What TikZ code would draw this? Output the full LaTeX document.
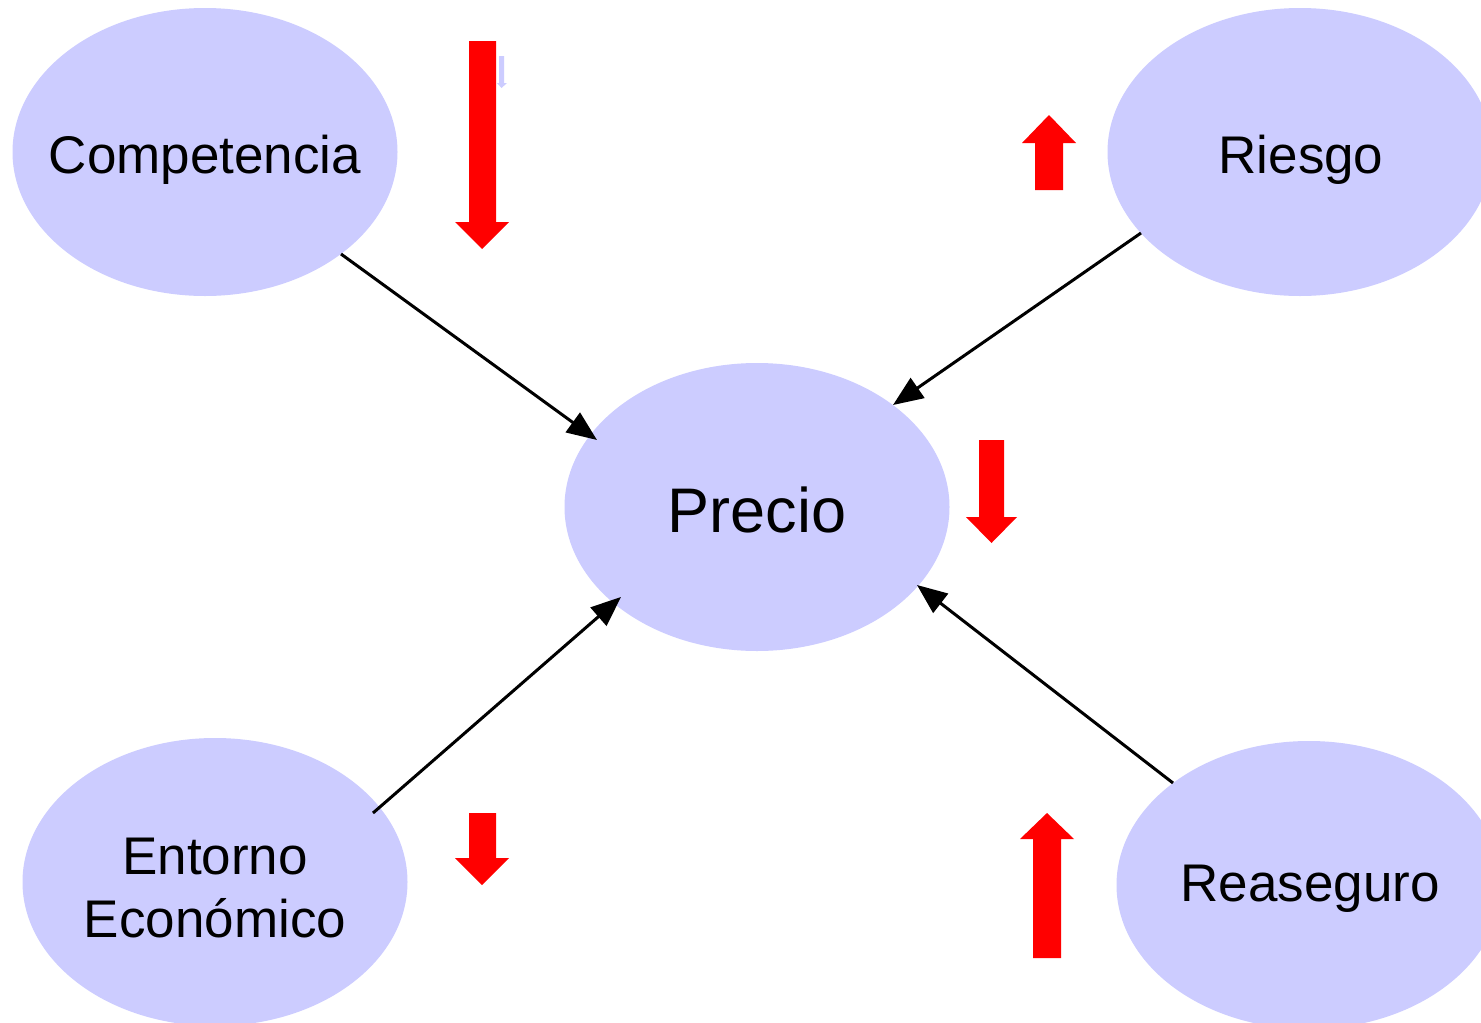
\documentclass[tikz,border=0pt]{standalone}
\usepackage{fontspec}
\setmainfont{Liberation Sans}
\usetikzlibrary{shapes.geometric,arrows.meta}
\definecolor{bubble}{HTML}{CCCCFF}
\definecolor{arrred}{HTML}{FF0000}
\tikzset{
  bub/.style={ellipse,fill=bubble,draw=none,minimum width=385pt,minimum height=288pt,inner sep=0pt,outer sep=0pt},
  lbl/.style={font=\fontsize{53}{63}\selectfont,align=center,inner sep=0pt},
  conn/.style={line width=3pt,black,-{Triangle[length=30pt,width=24pt]}},
  redblock/.style={fill=arrred,draw=none},
  blueblock/.style={fill=bubble,draw=none}
}
\begin{document}
\begin{tikzpicture}[x=1pt,y=-1pt]
\useasboundingbox (0,0) rectangle (1481,1023);
\fill[white] (0,0) rectangle (1481,1023);
% bubbles
\node[bub] (comp) at (205,152) {};
\node[bub] (ries) at (1300,152) {};
\node[bub] (prec) at (757,507) {};
\node[bub] (ent) at (215,882) {};
\node[bub] (rea) at (1309,885) {};
% labels
\node[lbl] at ([shift={(0,8)}]comp.center) {Competencia};
\node[lbl] at ([shift={(1,8)}]ries.center) {Riesgo};
\node[lbl,font=\fontsize{63}{70}\selectfont] at ([shift={(0,3)}]prec.center) {Precio};
\node[lbl] at ([shift={(0,6)}]ent.center) {Entorno\\Económico};
\node[lbl] at ([shift={(1,4)}]rea.center) {Reaseguro};
% connectors
\draw[conn] ([shift={(136,102)}]comp.center) -- ([shift={(-160,-67)}]prec.center);
\draw[conn] ([shift={(-159,81)}]ries.center) -- ([shift={(136,-102)}]prec.center);
\draw[conn] ([shift={(158,-69)}]ent.center) -- ([shift={(-136,90)}]prec.center);
\draw[conn] ([shift={(-136,-102)}]rea.center) -- ([shift={(160,78)}]prec.center);
% block arrows
\fill[redblock] (469,41) -- (496,41) -- (496,222) -- (509,222) -- (482,249) -- (455,222) -- (469,222) -- cycle;
\fill[blueblock] (499,56) -- (504,56) -- (504,83) -- (507,83) -- (501.5,88) -- (497,83) -- (499,83) -- cycle;
\fill[redblock] (1035,190) -- (1063,190) -- (1063,143) -- (1076,143) -- (1049,115) -- (1022,143) -- (1035,143) -- cycle;
\fill[redblock] (979,440) -- (1004,440) -- (1004,517) -- (1017,517) -- (991.5,543) -- (966,517) -- (979,517) -- cycle;
\fill[redblock] (469,813) -- (496,813) -- (496,858) -- (509,858) -- (482,885) -- (455,858) -- (469,858) -- cycle;
\fill[redblock] (1033,958) -- (1061,958) -- (1061,839) -- (1074,839) -- (1047,813) -- (1020,839) -- (1033,839) -- cycle;
\end{tikzpicture}
\end{document}
